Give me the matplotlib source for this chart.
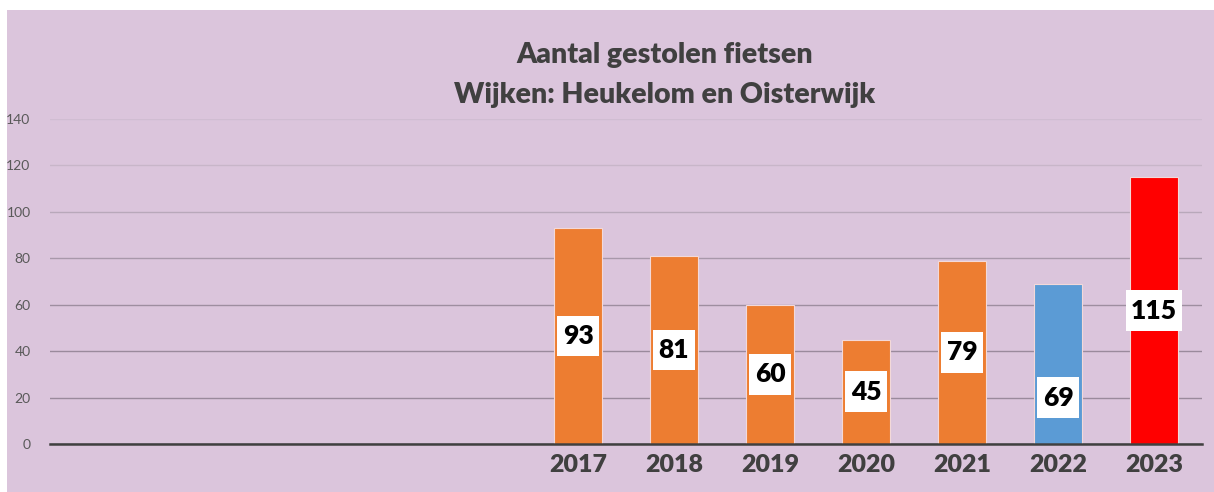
import matplotlib.pyplot as plt
from matplotlib.patches import Rectangle

# data
years = ["", "", "", "", "", "2017", "2018", "2019", "2020", "2021", "2022", "2023"]
counts = [0, 0, 0, 0, 0, 93, 81, 60, 45, 79, 69, 115]
colors = ["#ed7d31"] * 10 + ["#5b9bd5", "#ff0000"]

bg = "#dbc5dc"
fig = plt.figure(figsize=(12.14, 4.92), dpi=100, facecolor="white")
fig.patches.append(Rectangle((7 / 1214, 0), 1, 1 - 10 / 492, transform=fig.transFigure,
                             facecolor=bg, edgecolor="none", zorder=-1))
ax = fig.add_axes([50 / 1214, 1 - 444 / 492, 1152 / 1214, 325 / 492])
ax.set_facecolor(bg)

x = list(range(len(years)))
bars = ax.bar(x, counts, width=0.5, color=colors, edgecolor="#f3d9d9", linewidth=0.8, zorder=3)

# value labels in white boxes
for i, v in enumerate(counts):
    if v == 0:
        continue
    ypos = v / 2
    if years[i] == "2022":
        ypos = 20
    ax.text(i, ypos, str(v), ha="center", va="center", fontsize=19, fontweight="heavy",
            family="Lato", color="black", zorder=4,
            bbox=dict(boxstyle="square,pad=0.2", facecolor="white", edgecolor="none",
                      mutation_aspect=1.6))

ax.set_xlim(-0.5, len(years) - 0.5)
ax.set_ylim(0, 140)
ax.set_yticks(range(0, 141, 20))
ax.set_xticks(x)
ax.set_xticklabels(years, fontsize=18, fontweight="heavy", family="Lato", color="#404040")
for lab in ax.get_yticklabels():
    lab.set_family("Lato")
    lab.set_fontsize(10)
    lab.set_color("#595959")
ax.tick_params(axis="both", length=0)
ax.tick_params(axis="y", pad=14)
ax.tick_params(axis="x", pad=7)
ax.grid(axis="y", linewidth=1.0, zorder=0)
grid_cols = ["#404040", "#9a8a9c", "#9a8a9c", "#9e8ea0", "#a898aa", "#b8a8ba", "#c8b6c9", "#d0bdd2"]
for line, c in zip(ax.get_ygridlines(), grid_cols):
    line.set_color(c)
for s in ["top", "right", "left"]:
    ax.spines[s].set_visible(False)
ax.spines["bottom"].set_color("#404040")
ax.spines["bottom"].set_linewidth(1.8)
ax.spines["bottom"].set_zorder(5)

fig.text(665 / 1214, 1 - 55 / 492, "Aantal gestolen fietsen", ha="center", va="center",
         fontsize=20.5, fontweight="heavy", family="Lato", color="#404040")
fig.text(665 / 1214, 1 - 95 / 492, "Wijken: Heukelom en Oisterwijk", ha="center", va="center",
         fontsize=20.5, fontweight="heavy", family="Lato", color="#404040")

fig.savefig("out.png", dpi=100, facecolor="white")
